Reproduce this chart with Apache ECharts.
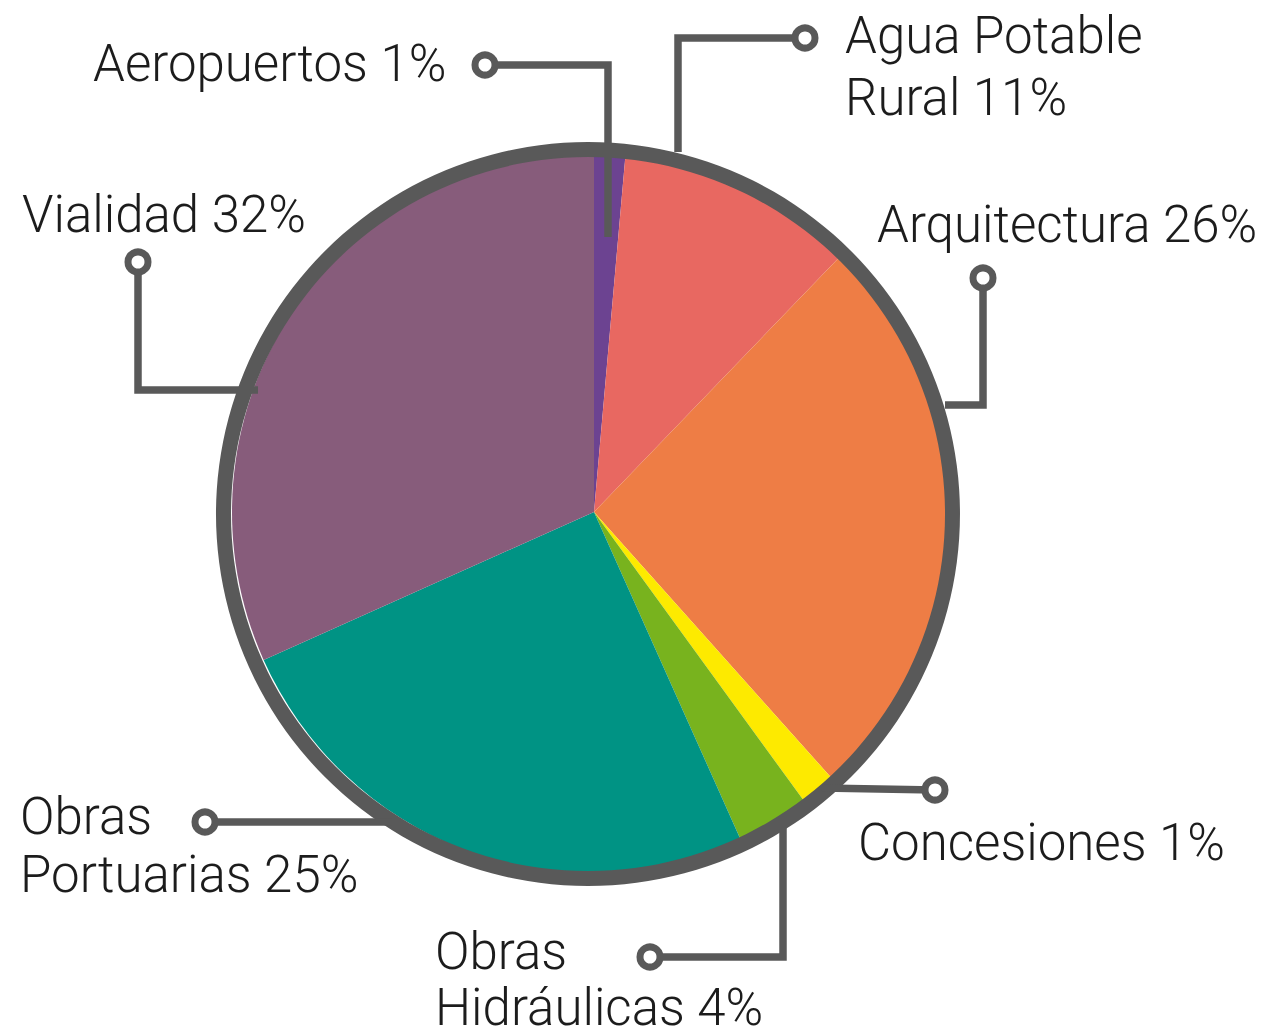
<!DOCTYPE html>
<html><head><meta charset="utf-8">
<script src="https://cdn.jsdelivr.net/npm/echarts@6/dist/echarts.min.js"></script>
<style>html,body{margin:0;padding:0;background:#fff}#c{width:1275px;height:1036px}</style>
</head><body><div id="c"></div>
<script>
// ---- data ----
const categories = ['Aeropuertos','Agua Potable Rural','Arquitectura','Concesiones','Obras Hidráulicas','Obras Portuarias','Vialidad'];
const values = [1.4, 10.8, 26.2, 1.6, 3.3, 25.0, 31.7];
const labelNames = ['Aeropuertos','Agua Potable\nRural','Arquitectura','Concesiones','Obras\nHidráulicas','Obras\nPortuarias','Vialidad'];
const percentLabels = ['1%','11%','26%','1%','4%','25%','32%'];

// ---- styles / annotation layout ----
const colors = ['#6C4391','#E86861','#EE7D45','#FDEA00','#78B31E','#009384','#875C7B'];
const ringColor = '#595959';
const labelPos = [[93,63],[845,66],[877,224],[858,842],[435,979],[20,845],[22,214]];
const labelLineHeights = [60,62,60,60,56,58,60];
const leaderLines = [
  [[485,65],[608,65],[608,237]],
  [[805,38],[678,38],[678,152]],
  [[983,278],[983,405],[945,405]],
  [[935,790],[822,788]],
  [[650,957],[783,957],[783,820]],
  [[205,822],[392,822]],
  [[138,262],[138,390],[258,390]]
];

const chart = echarts.init(document.getElementById('c'), null, {renderer:'svg'});
chart.setOption({
  animation:false,
  backgroundColor:'#ffffff',
  series:[
    {
      type:'pie',
      center:[594,512],
      radius:[0,362],
      startAngle:90,
      clockwise:true,
      avoidLabelOverlap:false,
      silent:true,
      emphasis:{disabled:true},
      data: categories.map((c,i)=>({name:c, value:values[i], itemStyle:{color:colors[i]},
        label:{lineHeight:labelLineHeights[i]}})),
      label:{
        show:true,
        position:'outside',
        formatter: p => labelNames[p.dataIndex] + ' ' + percentLabels[p.dataIndex],
        fontFamily:'Roboto',
        fontWeight:300,
        fontSize:51,
        color:'#1c1c1c',
        width:420,
        overflow:'none',
        align:'left'
      },
      labelLine:{show:false},
      labelLayout: p => ({
        x: labelPos[p.dataIndex][0],
        y: labelPos[p.dataIndex][1],
        align:'left',
        verticalAlign:'middle'
      })
    },
    {
      type:'pie',
      center:[588,514],
      radius:[357,372],
      silent:true,
      emphasis:{disabled:true},
      label:{show:false},
      labelLine:{show:false},
      data:[{value:1, name:'ring', itemStyle:{color:ringColor}}]
    }
  ],
  graphic: leaderLines.map(l => ({
    type:'polyline',
    z:90,
    shape:{points:l},
    style:{fill:null, stroke:ringColor, lineWidth:7.5, lineJoin:'miter'}
  })).concat(leaderLines.map(l => ({
    type:'circle',
    z:100,
    shape:{cx:l[0][0], cy:l[0][1], r:10},
    style:{fill:'#ffffff', stroke:ringColor, lineWidth:7}
  })))
});
</script></body></html>
